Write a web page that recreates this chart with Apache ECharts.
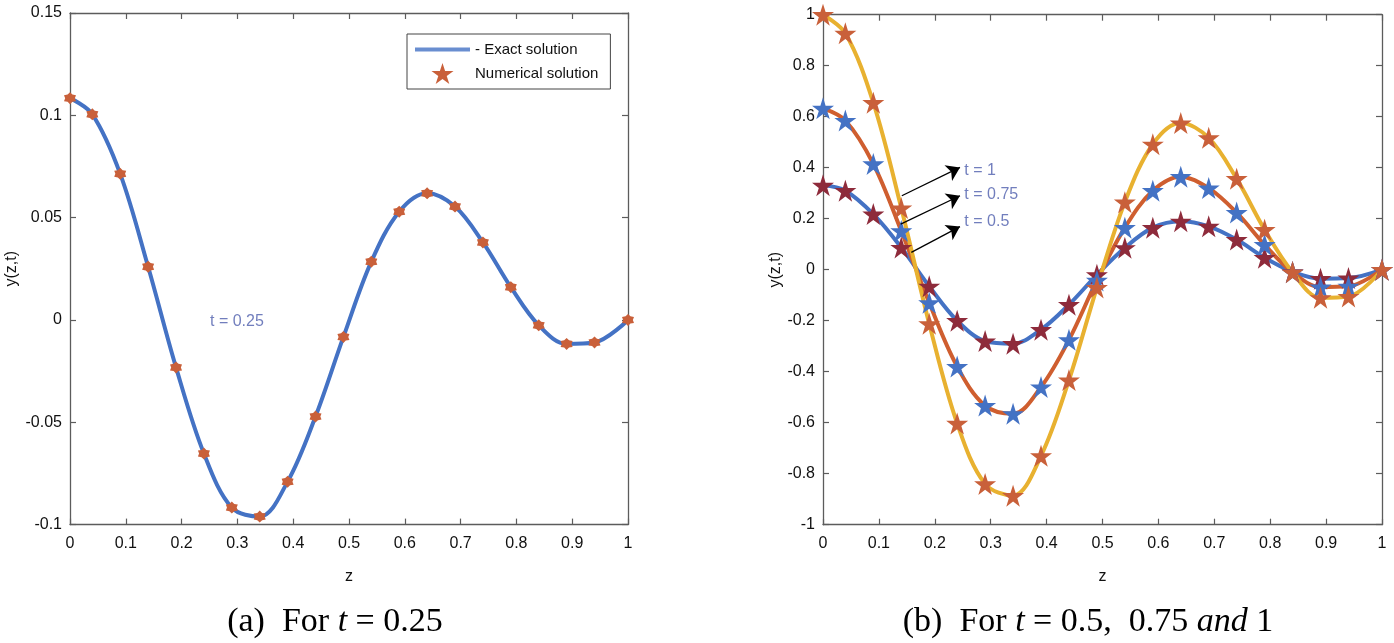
<!DOCTYPE html>
<html><head><meta charset="utf-8">
<script src="https://cdn.jsdelivr.net/npm/echarts@6/dist/echarts.min.js"></script>
<style>html,body{margin:0;padding:0;background:#fff}#c{width:1394px;height:643px}</style>
</head><body><div id="c"></div>
<script>
// ---- data ----
const zGrid = [0,0.04,0.09,0.14,0.19,0.24,0.29,0.34,0.39,0.44,0.49,0.54,0.59,0.64,0.69,0.74,0.79,0.84,0.89,0.94,1];
const yT025 = [0.1084,0.1005,0.0714,0.0260,-0.0232,-0.0653,-0.0917,-0.0961,-0.0790,-0.0472,-0.0083,0.0285,0.0529,0.0619,0.0554,0.0379,0.0160,-0.0026,-0.0117,-0.0110,0];
const yT05  = [0.331,0.310,0.218,0.087,-0.065,-0.200,-0.280,-0.290,-0.235,-0.137,-0.020,0.086,0.165,0.190,0.170,0.118,0.047,-0.008,-0.035,-0.033,0];
const yT075 = [0.633,0.585,0.415,0.152,-0.130,-0.380,-0.533,-0.565,-0.460,-0.275,-0.042,0.165,0.310,0.365,0.320,0.224,0.098,-0.010,-0.068,-0.065,0];
const yT1   = [1.000,0.927,0.655,0.242,-0.212,-0.603,-0.840,-0.886,-0.730,-0.433,-0.070,0.265,0.492,0.575,0.517,0.357,0.157,-0.010,-0.110,-0.105,0];
const legendNames = ['- Exact solution','Numerical solution'];
const annotA = ['t = 0.25'];
const annotAAt = [[0.25,-0.001]];
const annotB = ['t = 1','t = 0.75','t = 0.5'];
const annotBAt = [[0.252,0.388],[0.252,0.294],[0.252,0.19]];
const arrowsB = [[0.141,0.290,0.245,0.401],[0.139,0.179,0.245,0.290],[0.158,0.068,0.245,0.169]];
const captionA = '(a)  For {i|t} = 0.25';
const captionB = '(b)  For {i|t} = 0.5,  0.75 {i|and} 1';

// ---- styles ----
const C_BLUE='#4472C4', C_ORANGE='#CF5E2F', C_YELLOW='#E8B130', C_DRED='#8E2B3B', C_STARO='#C9603A', C_TXT='#4E5EAC';
const STAR5='path://M50 0L61.23 34.55L97.55 34.55L68.17 55.9L79.39 90.45L50 69.1L20.61 90.45L31.83 55.9L2.45 34.55L38.77 34.55Z';
const STAR6='path://M50 0L67.5 19.69L93.3 25L85 50L93.3 75L67.5 80.31L50 100L32.5 80.31L6.7 75L15 50L6.7 25L32.5 19.69Z';
const BAR='path://M0 0H100V7.5H0Z';
const FONT='Liberation Sans';
const pairs = arr => zGrid.map((z,i)=>[z,arr[i]]);
const axisLine={onZero:false,lineStyle:{color:'#5c5c5c',width:1.3}};
const tick={inside:true,length:6,lineStyle:{color:'#5c5c5c',width:1.2}};
function xAx(grid,pos,labels){
  return {gridIndex:grid,type:'value',min:0,max:1,interval:0.1,position:pos,
    axisLine:axisLine,axisTick:tick,splitLine:{show:false},
    axisLabel:{show:labels,color:'#111',fontFamily:FONT,fontSize:16,margin:11,formatter:v=>String(Math.round(v*10)/10)},
    name:labels?'z':'',nameLocation:'middle',nameGap:44,nameTextStyle:{color:'#111',fontFamily:FONT,fontSize:16}};
}
function yAx(grid,pos,labels,min,max,iv,dec,gap){
  const f=Math.pow(10,dec);
  return {gridIndex:grid,type:'value',min:min,max:max,interval:iv,position:pos,
    axisLine:axisLine,axisTick:tick,splitLine:{show:false},
    axisLabel:{show:labels,color:'#111',fontFamily:FONT,fontSize:16,margin:8,formatter:v=>String(Math.round(v*f)/f)},
    name:labels?'y(z,t)':'',nameLocation:'middle',nameGap:gap,nameTextStyle:{color:'#111',fontFamily:FONT,fontSize:16}};
}
function lineS(name,xi,yi,arr,color){
  return {name:name,type:'line',xAxisIndex:xi,yAxisIndex:yi,data:pairs(arr),smooth:0.35,symbol:'none',
    lineStyle:{color:color,width:4},itemStyle:{color:color},z:2,silent:true};
}
function starS(name,xi,yi,arr,color,sym,size){
  return {name:name,type:'scatter',xAxisIndex:xi,yAxisIndex:yi,data:pairs(arr),symbol:sym,symbolSize:size,
    itemStyle:{color:color,opacity:1},z:3,silent:true};
}
function textS(xi,yi,texts,at){
  return {type:'scatter',xAxisIndex:xi,yAxisIndex:yi,symbol:'circle',symbolSize:1,silent:true,z:5,
    itemStyle:{color:'rgba(0,0,0,0)'},
    data:texts.map((t,i)=>({name:t,value:at[i]})),
    label:{show:true,position:'right',distance:0,formatter:p=>p.name,color:C_TXT,fontFamily:FONT,fontSize:16}};
}
const arrowSeries = textS(2,2,annotB,annotBAt);
arrowSeries.markLine={silent:true,animation:false,symbol:['none','arrow'],symbolSize:13,label:{show:false},
  lineStyle:{color:'#000',width:1.3,type:'solid'},emphasis:{disabled:true},
  data:arrowsB.map(a=>[{coord:[a[0],a[1]]},{coord:[a[2],a[3]]}])};

const option={
  animation:false,
  grid:[{left:70,right:766,top:13,bottom:118.4},{left:823,right:12,top:14.7,bottom:118.3}],
  xAxis:[xAx(0,'bottom',true),xAx(0,'top',false),xAx(1,'bottom',true),xAx(1,'top',false)],
  yAxis:[yAx(0,'left',true,-0.1,0.15,0.05,2,50),yAx(0,'right',false,-0.1,0.15,0.05,2,0),
         yAx(1,'left',true,-1,1,0.2,1,36),yAx(1,'right',false,-1,1,0.2,1,0)],
  legend:{left:407,top:34,orient:'vertical',itemWidth:55,itemHeight:21,itemGap:6,padding:[8,12,5,8],
    borderColor:'#444',borderWidth:1,backgroundColor:'#fff',selectedMode:false,symbolKeepAspect:true,
    textStyle:{color:'#111',fontFamily:FONT,fontSize:15},
    data:[{name:legendNames[0],icon:BAR},{name:legendNames[1],icon:STAR5}]},
  series:[
    {name:legendNames[0],type:'scatter',xAxisIndex:0,yAxisIndex:0,data:[],itemStyle:{color:C_BLUE}},
    lineS('exactA',0,0,yT025,C_BLUE),
    starS(legendNames[1],0,0,yT025,C_STARO,STAR6,12),
    textS(0,0,annotA,annotAAt),
    lineS('b05',2,2,yT05,C_BLUE),
    lineS('b075',2,2,yT075,C_ORANGE),
    lineS('b1',2,2,yT1,C_YELLOW),
    starS('s05',2,2,yT05,C_DRED,STAR5,22),
    starS('s075',2,2,yT075,C_BLUE,STAR5,22),
    starS('s1',2,2,yT1,C_STARO,STAR5,22),
    arrowSeries
  ],
  graphic:[
    {type:'text',x:335,y:622,style:{text:captionA,fontSize:34,fontFamily:'Liberation Serif',fill:'#000',align:'center',verticalAlign:'middle',
      rich:{i:{fontStyle:'italic',fontSize:34,fontFamily:'Liberation Serif'}}}},
    {type:'text',x:1088,y:622,style:{text:captionB,fontSize:34,fontFamily:'Liberation Serif',fill:'#000',align:'center',verticalAlign:'middle',
      rich:{i:{fontStyle:'italic',fontSize:34,fontFamily:'Liberation Serif'}}}}
  ]
};
const chart=echarts.init(document.getElementById('c'),null,{renderer:'canvas'});
chart.setOption(option);
</script></body></html>
